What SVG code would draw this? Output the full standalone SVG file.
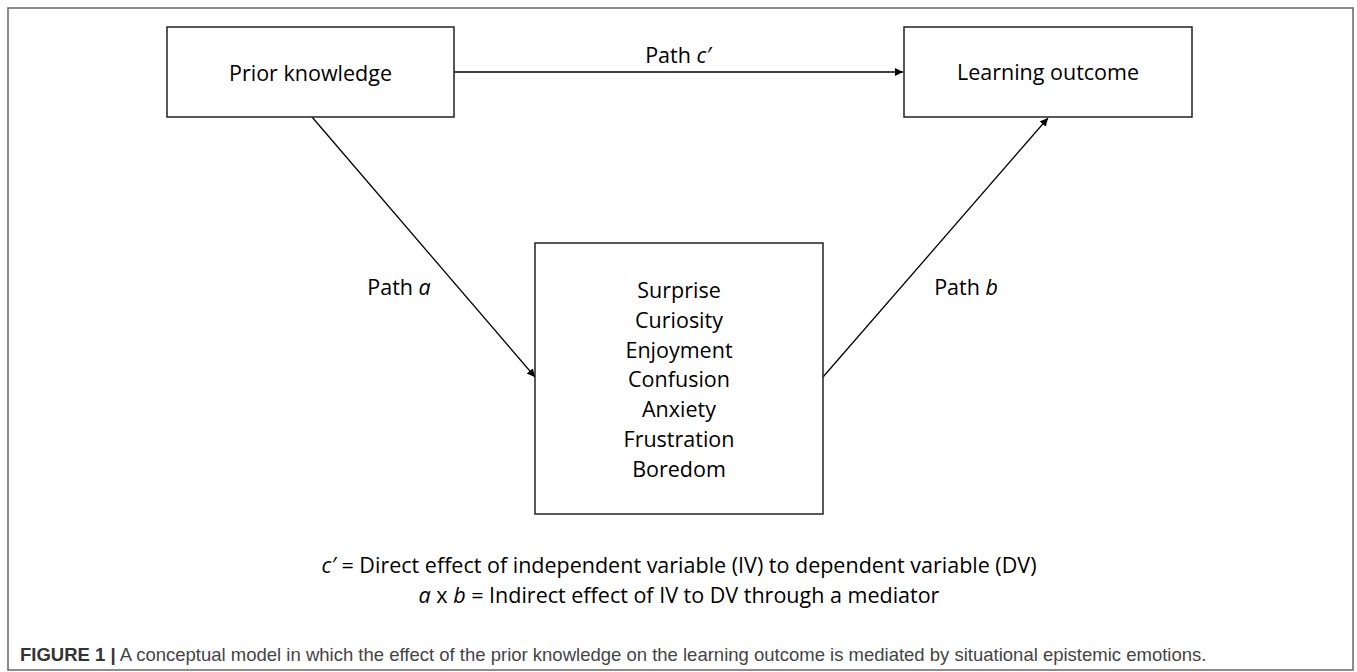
<svg xmlns="http://www.w3.org/2000/svg" width="1357" height="672" viewBox="0 0 1357 672">
  <defs>
    <marker id="arr" viewBox="0 0 10 10" refX="10" refY="5" markerWidth="8" markerHeight="8" markerUnits="userSpaceOnUse" orient="auto">
      <path d="M0,0 L10,5 L0,10 z" fill="#000"/>
    </marker>
  </defs>
  <style>
    .box { fill: #fff; stroke: #222; stroke-width: 1.5; }
    .lbl { font-family: "Open Sans", "Noto Sans", sans-serif; font-size: 21.5px; fill: #000; text-anchor: middle; }
    .it { font-style: italic; }
    .edge { stroke: #000; stroke-width: 1.3; fill: none; marker-end: url(#arr); }
    .cap { font-family: "Liberation Sans", Arial, sans-serif; font-size: 18.5px; fill: #444; }
  </style>
  <rect x="0" y="0" width="1357" height="672" fill="#fff"/>
  <rect id="frame" x="8" y="8" width="1345" height="662" fill="none" stroke="#666" stroke-width="1.5"/>

  <g id="connectors">
    <line class="edge" x1="454" y1="72" x2="903" y2="72"/>
    <line class="edge" x1="312" y1="117" x2="535" y2="377"/>
    <line class="edge" x1="823" y1="377" x2="1048" y2="118"/>
    <text class="lbl" x="678" y="63">Path <tspan class="it">c′</tspan></text>
    <text class="lbl" x="399" y="295">Path <tspan class="it">a</tspan></text>
    <text class="lbl" x="966" y="295">Path <tspan class="it">b</tspan></text>
  </g>

  <g id="prior">
    <rect class="box" x="167" y="27" width="287" height="90"/>
    <text class="lbl" x="310.5" y="81">Prior knowledge</text>
  </g>

  <g id="outcome">
    <rect class="box" x="904" y="27" width="288" height="90"/>
    <text class="lbl" x="1048" y="80">Learning outcome</text>
  </g>

  <g id="emotions">
    <rect class="box" x="535" y="243" width="288" height="271"/>
    <text class="lbl" x="679" y="298">Surprise</text>
    <text class="lbl" x="679" y="328">Curiosity</text>
    <text class="lbl" x="679" y="358">Enjoyment</text>
    <text class="lbl" x="679" y="387">Confusion</text>
    <text class="lbl" x="679" y="417">Anxiety</text>
    <text class="lbl" x="679" y="447">Frustration</text>
    <text class="lbl" x="679" y="477">Boredom</text>
  </g>

  <g id="legend">
    <text class="lbl" x="679" y="573"><tspan class="it">c′</tspan> = Direct effect of independent variable (IV) to dependent variable (DV)</text>
    <text class="lbl" x="679" y="603"><tspan class="it">a</tspan> x <tspan class="it">b</tspan> = Indirect effect of IV to DV through a mediator</text>
  </g>

  <g id="caption">
    <text class="cap" x="20" y="661"><tspan font-weight="bold" fill="#333">FIGURE 1 |</tspan> A conceptual model in which the effect of the prior knowledge on the learning outcome is mediated by situational epistemic emotions.</text>
  </g>
</svg>
